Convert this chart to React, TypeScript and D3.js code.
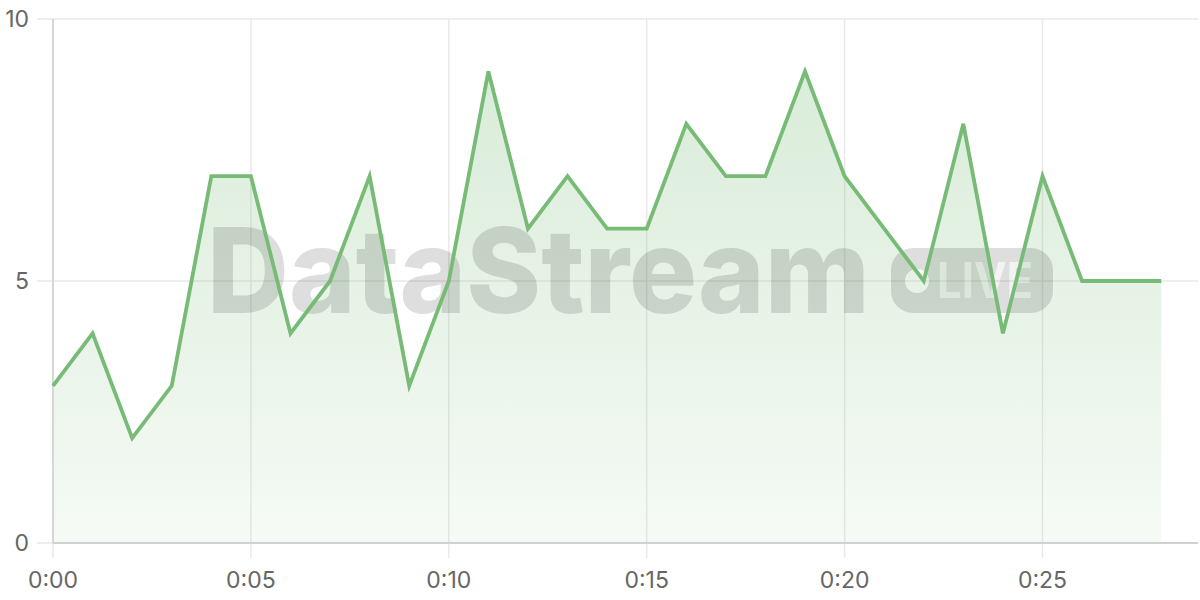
import { useEffect, useRef } from "react";
import * as d3 from "d3";

// minutes since start and sample value
const minutes = [0, 1, 2, 3, 4, 5, 6, 7, 8, 9, 10, 11, 12, 13, 14, 15, 16, 17, 18, 19, 20, 21, 22, 23, 24, 25, 26, 27, 28];
const values = [3, 4, 2, 3, 7, 7, 4, 5, 7, 3, 5, 9, 6, 7, 6, 6, 8, 7, 7, 9, 7, 6, 5, 8, 4, 7, 5, 5, 5];
const xTicks = [0, 5, 10, 15, 20, 25];
const yTicks = [0, 5, 10];

type Point = { m: number; v: number };

const fmtTime = (m: number) => `0:${String(m).padStart(2, "0")}`;

export default function App() {
  const ref = useRef<SVGSVGElement | null>(null);

  useEffect(() => {
    const svg = d3.select(ref.current);
    svg.selectAll("*").remove();

    const width = 1200;
    const height = 600;
    const margin = { top: 19, right: 2, bottom: 57, left: 53 };
    const green = "#77bb77";
    const font = "Inter, 'Liberation Sans', Arial, sans-serif";

    const data: Point[] = minutes.map((m, i) => ({ m, v: values[i] }));

    const x = d3
      .scaleLinear()
      .domain([0, 29])
      .range([margin.left, margin.left + 29 * 39.58]);
    const y = d3
      .scaleLinear()
      .domain([0, 10])
      .range([height - margin.bottom, margin.top]);

    svg.attr("viewBox", `0 0 ${width} ${height}`).attr("width", width).attr("height", height);

    const defs = svg.append("defs");
    const grad = defs
      .append("linearGradient")
      .attr("id", "areaFill")
      .attr("gradientUnits", "userSpaceOnUse")
      .attr("x1", 0)
      .attr("x2", 0)
      .attr("y1", y(10))
      .attr("y2", y(0));
    grad.append("stop").attr("offset", "0%").attr("stop-color", green).attr("stop-opacity", 0.3);
    grad.append("stop").attr("offset", "100%").attr("stop-color", green).attr("stop-opacity", 0.07);

    const x0 = margin.left;
    const x1 = width - margin.right;

    // grid
    svg
      .append("g")
      .selectAll("line")
      .data(yTicks)
      .enter()
      .append("line")
      .attr("x1", x0 - 16)
      .attr("x2", x1)
      .attr("y1", (d: number) => y(d))
      .attr("y2", (d: number) => y(d))
      .attr("stroke", "#e9e9e9")
      .attr("stroke-width", 1.5);
    svg
      .append("g")
      .selectAll("line")
      .data(xTicks)
      .enter()
      .append("line")
      .attr("x1", (d: number) => x(d))
      .attr("x2", (d: number) => x(d))
      .attr("y1", y(10))
      .attr("y2", y(0) + 15)
      .attr("stroke", "#e9e9e9")
      .attr("stroke-width", 1.5);

    // area
    const area = d3
      .area<Point>()
      .x((d: Point) => x(d.m))
      .y0(y(0))
      .y1((d: Point) => y(d.v));
    svg.append("path").datum(data).attr("d", area as any).attr("fill", "url(#areaFill)");

    // watermark
    const wm = svg.append("g").attr("pointer-events", "none");
    wm.append("text")
      .attr("x", 207)
      .attr("y", 313)
      .attr("font-family", font)
      .attr("font-weight", 800)
      .attr("font-size", 118)
      .attr("textLength", 663)
      .attr("lengthAdjust", "spacingAndGlyphs")
      .attr("fill", "#000")
      .attr("fill-opacity", 0.13)
      .text("DataStream");
    const mask = defs.append("mask").attr("id", "liveMask");
    mask.append("rect").attr("x", 891).attr("y", 248).attr("width", 162).attr("height", 65).attr("rx", 22).attr("fill", "#fff");
    mask.append("circle").attr("cx", 917).attr("cy", 281).attr("r", 12).attr("fill", "#000");
    mask.append("text")
      .attr("x", 937)
      .attr("y", 298)
      .attr("font-family", font)
      .attr("font-weight", 700)
      .attr("font-size", 49)
      .attr("textLength", 96)
      .attr("lengthAdjust", "spacingAndGlyphs")
      .attr("fill", "#000")
      .attr("fill-opacity", 0.65)
      .text("LIVE");
    wm.append("rect")
      .attr("x", 891)
      .attr("y", 248)
      .attr("width", 162)
      .attr("height", 65)
      .attr("fill", "#000")
      .attr("fill-opacity", 0.13)
      .attr("mask", "url(#liveMask)");

    // axes lines
    svg.append("line").attr("x1", x0).attr("x2", x0).attr("y1", y(10)).attr("y2", y(0)).attr("stroke", "#d6d6d6").attr("stroke-width", 2);
    svg.append("line").attr("x1", x0).attr("x2", x1).attr("y1", y(0)).attr("y2", y(0)).attr("stroke", "#d0d0d0").attr("stroke-width", 2);

    // line
    const line = d3
      .line<Point>()
      .x((d: Point) => x(d.m))
      .y((d: Point) => y(d.v));
    svg
      .append("path")
      .datum(data)
      .attr("d", line as any)
      .attr("fill", "none")
      .attr("stroke", green)
      .attr("stroke-width", 3.8)
      .attr("stroke-linejoin", "miter");

    // tick labels
    svg
      .append("g")
      .selectAll("text")
      .data(yTicks)
      .enter()
      .append("text")
      .attr("x", 29)
      .attr("y", (d: number) => y(d) + 2)
      .attr("text-anchor", "end")
      .attr("dominant-baseline", "middle")
      .attr("font-family", font)
      .attr("font-size", 23)
      .attr("fill", "#666")
      .text((d: number) => String(d));
    svg
      .append("g")
      .selectAll("text")
      .data(xTicks)
      .enter()
      .append("text")
      .attr("x", (d: number) => x(d))
      .attr("y", 588)
      .attr("text-anchor", "middle")
      .attr("font-family", font)
      .attr("font-size", 23)
      .attr("fill", "#666")
      .text((d: number) => fmtTime(d));
  }, []);

  return (
    <div style={{ position: "fixed", left: 0, top: 0, width: 1200, height: 600, background: "#fff" }}>
      <svg ref={ref} style={{ display: "block" }} />
    </div>
  );
}
